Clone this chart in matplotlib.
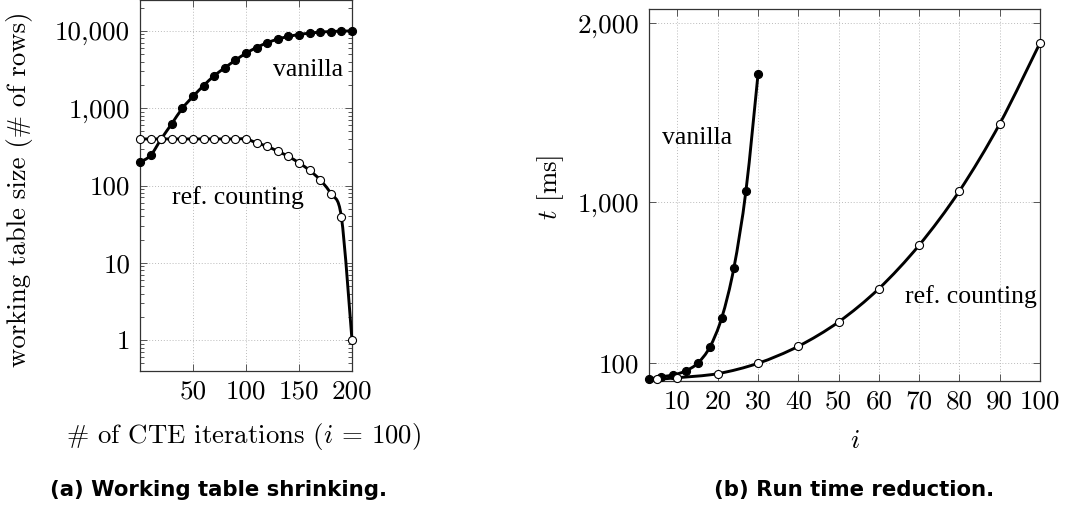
import numpy as np
import matplotlib
matplotlib.use("Agg")
import matplotlib.pyplot as plt
from matplotlib.path import Path
from matplotlib.patches import PathPatch
from matplotlib.ticker import FixedLocator, LogLocator, NullFormatter

plt.rcParams['mathtext.fontset'] = 'cm'
plt.rcParams['axes.formatter.use_mathtext'] = True

# ---- data: (a) working table shrinking ----
iters = [0, 10, 20, 30, 40, 50, 60, 70, 80, 90, 100, 110, 120, 130, 140, 150,
         160, 170, 180, 190, 200]
wt_vanilla = [200, 245, 400, 630, 1000, 1420, 1960, 2630, 3330, 4180, 5140, 6100,
              7020, 7830, 8470, 8980, 9360, 9640, 9820, 9930, 10000]
wt_refcount = [400, 400, 400, 400, 400, 400, 400, 400, 400, 400, 400, 356, 321,
               277, 238, 196, 157, 118, 78.5, 39, 1]

# ---- data: (b) run time reduction ----
i_vanilla = [3, 6, 9, 12, 15, 18, 21, 24, 27, 30]
t_vanilla = [10.6, 25, 34.6, 57, 100, 189, 355, 633, 1065, 1717]
i_refcount = [5, 10, 20, 30, 40, 50, 60, 70, 80, 90, 100]
t_refcount = [10.6, 19.5, 42, 100, 195, 331, 517, 760, 1063, 1438, 1890]

a_xticks = [50, 100, 150, 200]
a_yticks = [1, 10, 100, 1000, 10000]
a_yticklabels = ['1', '10', '100', '1,000', '10,000']
b_xticks = [10, 20, 30, 40, 50, 60, 70, 80, 90, 100]
b_yticks = [100, 1000, 2000]
b_yticklabels = ['100', '1,000', '2,000']

TICKFONT = dict(family='cmr10', size=19.5)
LABFONT = dict(family='cmr10', size=19.3)
ANNFONT = dict(family='Liberation Serif', size=18.5)
CAPFONT = dict(family='DejaVu Sans', size=15.3, weight='bold')

fig = plt.figure(figsize=(10.89, 5.08), dpi=100)
W, H = 1089, 508
ax1 = fig.add_axes([140 / W, 1 - 371 / H, 212 / W, 371 / H])
ax2 = fig.add_axes([649.3 / W, 1 - 381 / H, (1040 - 649.3) / W, (381 - 9.3) / H])


def smooth_line(ax, xs, ys, k=0.16, lw=2.1):
    """Draw a smooth (TikZ-like) Bezier curve through data points, computed in
    axes space via the library's transforms."""
    to_ax = ax.transData + ax.transAxes.inverted()
    pts = to_ax.transform(np.column_stack([xs, ys]))
    n = len(pts)
    verts = [pts[0]]
    codes = [Path.MOVETO]
    for j in range(n - 1):
        p0 = pts[j - 1] if j > 0 else pts[j]
        p1 = pts[j]
        p2 = pts[j + 1]
        p3 = pts[j + 2] if j + 2 < n else pts[j + 1]
        c1 = p1 + (p2 - p0) * k
        c2 = p2 - (p3 - p1) * k
        verts += [c1, c2, p2]
        codes += [Path.CURVE4] * 3
    patch = PathPatch(Path(verts, codes), transform=ax.transAxes, fill=False,
                      edgecolor='black', lw=lw, zorder=3, clip_on=False)
    ax.add_patch(patch)


def style(ax):
    for s in ax.spines.values():
        s.set_linewidth(0.9)
        s.set_color('#333333')
    ax.tick_params(which='both', direction='in', top=True, right=True,
                   color='#555555', width=0.7)
    ax.tick_params(axis='x', which='both', pad=6)
    ax.tick_params(axis='y', which='both', pad=7)
    ax.tick_params(which='major', length=5)
    ax.tick_params(which='minor', length=3)
    ax.grid(True, which='major', linestyle=(0, (1, 2)), color='#bbbbbb', lw=0.7)
    ax.set_axisbelow(True)


# ---- (a) ----
ax1.set_yscale('log')
ax1.set_xlim(0, 200)
ax1.set_ylim(10 ** -0.4, 10 ** 4.4)
style(ax1)
ax1.set_xticks(a_xticks)
ax1.set_xticklabels([str(v) for v in a_xticks], fontdict=TICKFONT)
ax1.yaxis.set_major_locator(FixedLocator(a_yticks))
ax1.set_yticklabels(a_yticklabels, fontdict=TICKFONT)
ax1.yaxis.set_minor_locator(LogLocator(base=10, subs=np.arange(2, 10), numticks=20))
ax1.yaxis.set_minor_formatter(NullFormatter())
smooth_line(ax1, iters, wt_vanilla)
smooth_line(ax1, iters, wt_refcount)
ax1.plot(iters, wt_vanilla, 'o', ms=5.8, mfc='black', mec='black', mew=0.8,
         zorder=4, clip_on=False)
ax1.plot(iters, wt_refcount, 'o', ms=5.8, mfc='white', mec='black', mew=0.8,
         zorder=4, clip_on=False)
ax1.set_ylabel('working table size (# of rows)', fontdict=LABFONT, va='center')
ax1.yaxis.set_label_coords((19 - 140) / 212, 0.49)
ax1.set_xlabel('# of CTE iterations ($i$ = 100)', fontdict=LABFONT, va='center')
ax1.xaxis.set_label_coords((244 - 140) / 212, (371 - 437) / 371)
ax1.text(0.958, 0.811, 'vanilla', transform=ax1.transAxes, ha='right',
         va='center', fontdict=ANNFONT)
ax1.text(0.462, 0.468, 'ref. counting', transform=ax1.transAxes, ha='center',
         va='center', fontdict=ANNFONT)

# ---- (b) ----
ax2.set_xlim(3, 100)
ax2.set_ylim(1, 2078)
style(ax2)
ax2.set_xticks(b_xticks)
ax2.set_xticklabels([str(v) for v in b_xticks], fontdict=TICKFONT)
ax2.set_yticks(b_yticks)
ax2.set_yticklabels(b_yticklabels, fontdict=TICKFONT)
smooth_line(ax2, i_vanilla, t_vanilla)
smooth_line(ax2, i_refcount, t_refcount)
ax2.plot(i_vanilla, t_vanilla, 'o', ms=5.8, mfc='black', mec='black', mew=0.8,
         zorder=4, clip_on=False)
ax2.plot(i_refcount, t_refcount, 'o', ms=5.8, mfc='white', mec='black', mew=0.8,
         zorder=4, clip_on=False)
ax2.set_ylabel('$t$ [ms]', fontdict=LABFONT, va='center')
ax2.yaxis.set_label_coords((551 - 649.3) / 390.7, 0.52)
ax2.set_xlabel('$i$', fontdict=LABFONT, va='center')
ax2.xaxis.set_label_coords((855 - 649.3) / 390.7, (381 - 441) / 371.7)
ax2.text(0.122, 0.654, 'vanilla', transform=ax2.transAxes, ha='center',
         va='center', fontdict=ANNFONT)
ax2.text(0.992, 0.226, 'ref. counting', transform=ax2.transAxes, ha='right',
         va='center', fontdict=ANNFONT)

# captions
fig.text(219 / W, 1 - 490 / H, '(a) Working table shrinking.', ha='center',
         va='center', fontdict=CAPFONT)
fig.text(854 / W, 1 - 490 / H, '(b) Run time reduction.', ha='center',
         va='center', fontdict=CAPFONT)

fig.savefig('out.png', dpi=100)
